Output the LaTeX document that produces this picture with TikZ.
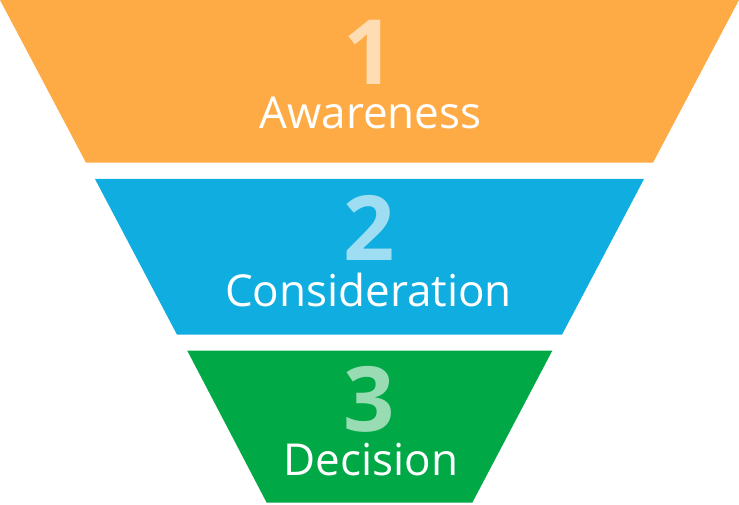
\documentclass[tikz,border=0pt]{standalone}
\usepackage{fontspec}
\setmainfont{Open Sans}
\usepackage{tikz}

\definecolor{stageA}{HTML}{FFAB45}
\definecolor{stageB}{HTML}{10AEE0}
\definecolor{stageC}{HTML}{00A945}

\begin{document}
\begin{tikzpicture}
[x=1pt,y=1pt,
 label/.style={text=white,anchor=base,inner sep=0pt,font=\fontsize{44}{44}\selectfont},
 number/.style={text=white,text opacity=0.6,anchor=base,inner sep=0pt,font=\fontsize{90}{90}\selectfont\bfseries},]

\useasboundingbox (0,0) rectangle (739,504);

%\fill[stageA] (0,504) rectangle (739,341.3);
\fill[stageA] (0,504) -- (739,504) -- (653,341.3) -- (86,341.3) -- cycle;
\fill[stageB] (95,325) -- (644,325) -- (562,169.3) -- (177,169.3) -- cycle;
\fill[stageC] (187.3,153.3) -- (552.3,153.3) -- (472.3,1.3) -- (266.7,1.3) -- cycle;

\node (n1) at (369.5,419)[number]{1};
\node (aw) at (370.5,375)[label]{Awareness};
\node (n2) at (369.5,243)[number]{2};
\node (co) at (368.5,197.3)[label]{Consideration};
\node (n3) at (369.5,72.3)[number]{3};
\node (de) at (371,28.3)[label]{Decision};

\end{tikzpicture}
\end{document}
